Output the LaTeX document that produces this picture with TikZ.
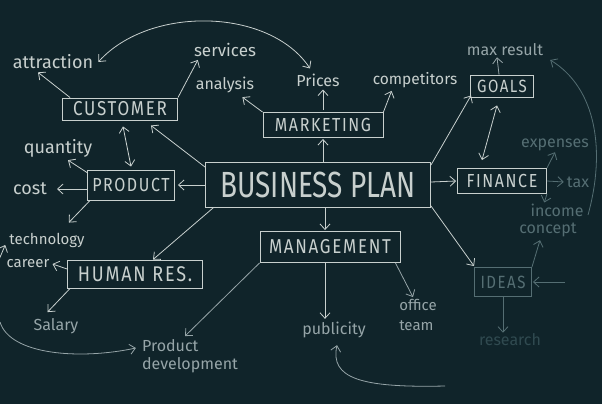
\documentclass[tikz,border=0pt]{standalone}
\usepackage{fontspec}
\usepackage{graphicx}
\setmainfont{Fira Sans}
\newfontfamily\capsfont{Fira Sans}[LetterSpace=10]
\usetikzlibrary{arrows.meta,calc}
\definecolor{bg}{RGB}{16,36,42}
\definecolor{chalk}{RGB}{200,208,206}
\definecolor{chalkm}{RGB}{150,165,168}
\definecolor{chalkd}{RGB}{85,110,115}
\definecolor{chalkvd}{RGB}{48,74,80}
\newcommand{\tall}[1]{\scalebox{1}[1.18]{#1}}
\begin{document}
\begin{tikzpicture}[x=1pt,y=-1pt,
  >={Straight Barb[length=5.5pt,width=10pt]},
  box/.style={draw=#1, text=#1, line width=0.9pt, inner sep=0pt,
    font=\capsfont\fontsize{16}{18}\selectfont},
  box/.default=chalk,
  lbl/.style={text=#1, inner sep=1pt, font=\fontsize{16}{18}\selectfont},
  lbl/.default=chalk,
  conn/.style={draw=#1, line width=0.8pt, ->},
  conn/.default=chalk,
  dconn/.style={draw=#1, line width=0.8pt, <->},
  dconn/.default=chalk]
\fill[bg] (0,0) rectangle (602,404);
\useasboundingbox (0,0) rectangle (602,404);

% boxes
\node[box, minimum width=225pt, minimum height=45pt, font=\fontsize{28}{30}\selectfont] (bp) at (318,185) {\scalebox{1}[1.3]{BUSINESS PLAN}};
\node[box, minimum width=115pt, minimum height=22pt, font=\capsfont\fontsize{17}{18}\selectfont] (cust) at (120,109) {\tall{CUSTOMER}};
\node[box, minimum width=120pt, minimum height=25pt] (mkt) at (323,125) {\tall{MARKETING}};
\node[box, minimum width=63pt, minimum height=22pt, font=\capsfont\fontsize{15}{18}\selectfont] (goals) at (502,86) {\tall{GOALS}};
\node[box, minimum width=87pt, minimum height=30pt] (prod) at (131,185) {\tall{PRODUCT}};
\node[box, minimum width=89pt, minimum height=25pt] (fin) at (502,181) {\tall{FINANCE}};
\node[box, minimum width=140pt, minimum height=31pt, font=\capsfont\fontsize{17}{18}\selectfont] (mgmt) at (330,247) {\tall{MANAGEMENT}};
\node[box, minimum width=135pt, minimum height=28pt, font=\capsfont\fontsize{18}{18}\selectfont] (hr) at (135,274) {\tall{HUMAN RES.}};
\node[box=chalkd, minimum width=57pt, minimum height=29pt, font=\capsfont\fontsize{15}{18}\selectfont] (ideas) at (503,282) {\tall{IDEAS}};

% labels
\node[lbl, font=\fontsize{18}{20}\selectfont] (attr) at (53,62) {attraction};
\node[lbl, font=\fontsize{17}{20}\selectfont] (serv) at (225,50) {services};
\node[lbl] (anal) at (225,85) {analysis};
\node[lbl] (pri) at (318,80) {Prices};
\node[lbl, font=\fontsize{15.5}{18}\selectfont] (comp) at (415,80) {competitors};
\node[lbl=chalkm] (max) at (505,50) {max result};
\node[lbl, font=\fontsize{18}{20}\selectfont] (quan) at (58,148) {quantity};
\node[lbl, font=\fontsize{18}{20}\selectfont] (cost) at (30,189) {cost};
\node[lbl=chalkd] (exp) at (555,145) {expenses};
\node[lbl=chalkd] (tax) at (578,182) {tax};
\node[lbl=chalkd] (inc) at (557,210) {income};
\node[lbl=chalkd] (conc) at (548,230) {concept};
\node[lbl, font=\fontsize{15}{18}\selectfont] (tech) at (47,240) {technology};
\node[lbl, font=\fontsize{15}{18}\selectfont] (car) at (28,264) {career};
\node[lbl=chalkm] (sal) at (56,326) {Salary};
\node[lbl=chalkm, align=left] (pd) at (190,356) {Product\\development};
\node[lbl=chalkm] (pub) at (334,330) {publicity};
\node[lbl=chalkm, align=left, font=\fontsize{15}{20}\selectfont] (off) at (418,315) {office\\team};
\node[lbl=chalkvd] (res) at (510,340) {research};

% free ends
\coordinate (ideasin) at (565,282);
\coordinate (rarc) at (588,215);
\coordinate (barc) at (445,386);
\coordinate (larc) at (0,322);
\coordinate (ltech) at (-2,262);

% connectors from business plan
\draw[conn] ($(bp.north west)+(0,5)$) -- ($(cust.south east)+(-27,5)$);
\draw[conn] ($(bp.west)+(0,0)$) -- ($(prod.east)+(3,0)$);
\draw[conn] ($(bp.south west)+(8,0)$) -- ($(hr.north)+(18,0)$);
\draw[conn] ($(bp.south)+(7,0)$) -- ($(mgmt.north)+(-5,-1)$);
\draw[conn] ($(bp.north)+(5,0)$) -- ($(mkt.south)+(0,1)$);
\draw[conn] ($(bp.north east)+(0,3)$) -- ($(goals.south west)+(1,-2)$);
\draw[conn] ($(bp.east)+(0,-3)$) -- ($(fin.west)+(-1,0)$);
\draw[conn] ($(bp.south east)+(0,-2)$) -- ($(ideas.north west)+(0,-1)$);

% management
\draw[conn=chalkm] (mgmt.south west) -- ($(pd.north)+(-5,-2)$);
\draw[conn] ($(mgmt.south)+(-5,0)$) -- ($(pub.north)+(-9,-2)$);
\draw[conn=chalkm] ($(mgmt.south east)+(-5,0)$) -- ($(off.north)+(-5,-1)$);

% customer
\draw[conn] ($(cust.north west)+(8,0)$) -- ($(attr.south)+(-15,2)$);
\draw[conn] (cust.north east) -- ($(serv.south west)+(5,2)$);
\draw[dconn] ($(cust.south)+(3,6)$) -- ($(prod.north)+(0,-3)$);
\draw[dconn] ($(attr.east)+(4,0)$) .. controls (150,5) and (270,8) .. ($(pri.north)+(-8,-4)$);

% marketing
\draw[conn] (mkt.north west) -- ($(anal.south east)+(-13,3)$);
\draw[conn] ($(mkt.north)+(0,-2)$) -- ($(pri.south)+(5,2)$);
\draw[conn] (mkt.north east) -- ($(comp.south west)+(20,2)$);

% goals & finance
\draw[conn=chalkm] ($(goals.north)+(-3,0)$) -- ($(max.south)+(-8,0)$);
\draw[dconn] ($(goals.south)+(-5,8)$) -- ($(fin.north)+(-20,-8)$);
\draw[conn=chalkd] (fin.north east) -- ($(exp.south)+(0,0)$);
\draw[conn=chalkd] (fin.east) -- ($(tax.west)+(-2,0)$);
\draw[conn=chalkd] (fin.south east) -- ($(inc.north west)+(15,0)$);

% ideas
\draw[conn=chalkd] (ideas.north east) -- ($(conc.south)+(-8,2)$);
\draw[conn=chalkd] (ideasin) -- ($(ideas.east)+(1,0)$);
\draw[conn=chalkd] (ideas.south) -- ($(res.north)+(-7,0)$);

% big curves
\draw[conn=chalkd] (rarc) .. controls (606,150) and (596,88) .. ($(max.east)+(6,10)$);
\draw[conn=chalkm] (barc) .. controls (360,388) and (330,378) .. ($(pub.south)+(3,6)$);
\draw[conn=chalkm] (larc) .. controls (10,355) and (80,360) .. ($(pd.west)+(-5,-8)$);

% human resources
\draw[conn] ($(hr.west)+(0,-5)$) -- ($(car.east)+(2,0)$);
\draw[conn] ($(hr.south west)+(3,0)$) -- ($(sal.north west)+(15,-5)$);

% product
\draw[conn] ($(prod.north west)+(0,3)$) -- ($(quan.south)+(10,2)$);
\draw[conn] ($(prod.west)+(0,4)$) -- ($(cost.east)+(9,0)$);
\draw[conn] ($(prod.south west)+(3,0)$) -- ($(tech.north east)+(-17,-9)$);
\draw[conn] (ltech) -- ($(tech.west)+(-3,5)$);
\end{tikzpicture}
\end{document}
